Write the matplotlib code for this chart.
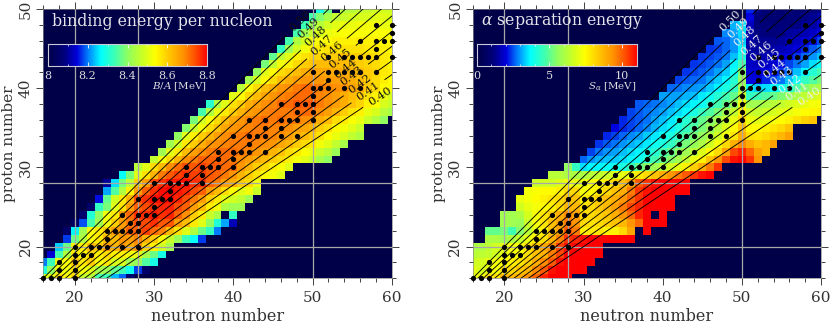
import numpy as np
import matplotlib
matplotlib.use("Agg")
import matplotlib.pyplot as plt
from matplotlib.colors import LinearSegmentedColormap, Normalize
from matplotlib.ticker import MultipleLocator

nan = float("nan")

# ---------- data ----------
proton_numbers = list(range(16, 51))

ba_first_n = [16,16,16,17,18,19,19,20,21,22,23,24,24,26,28,30,31,32,33,34,35,36,37,40,41,42,43,44,45,46,47,48,49,50,51]
ba_values = [
 [8.49,8.50,8.58,8.54,8.58,8.46,8.45,8.34,8.33,8.23,8.19,8.06],
 [8.30,8.40,8.52,8.52,8.57,8.52,8.50,8.43,8.41,8.36,8.33,8.28,8.17,8.05],
 [8.20,8.33,8.52,8.53,8.60,8.56,8.60,8.53,8.56,8.49,8.49,8.42,8.41,8.35,8.29],
 [8.14,8.34,8.44,8.56,8.54,8.58,8.55,8.58,8.55,8.55,8.52,8.51,8.43,8.37,8.29],
 [8.24,8.37,8.55,8.55,8.62,8.60,8.66,8.63,8.67,8.64,8.67,8.59,8.55,8.48,8.43],
 [8.17,8.37,8.44,8.53,8.56,8.62,8.62,8.67,8.66,8.69,8.63,8.60,8.53,8.47,8.41,8.33,8.27,8.17],
 [8.05,8.26,8.42,8.53,8.56,8.60,8.66,8.66,8.72,8.72,8.75,8.71,8.69,8.62,8.57,8.50,8.44,8.37,8.32,8.20],
 [8.04,8.18,8.34,8.42,8.52,8.60,8.66,8.70,8.74,8.74,8.76,8.73,8.73,8.66,8.62,8.56,8.50,8.40,8.30,8.22,8.12],
 [8.06,8.30,8.40,8.52,8.56,8.66,8.71,8.76,8.76,8.78,8.76,8.77,8.72,8.68,8.60,8.56,8.47,8.43,nan,8.32],
 [8.05,8.32,8.38,8.50,8.57,8.66,8.72,8.74,8.76,8.77,8.77,8.74,8.72,8.66,8.62,8.56,8.52,8.44,8.42,8.42],
 [8.15,8.36,8.48,8.56,8.63,8.74,8.76,8.79,8.79,8.79,8.77,8.74,8.70,8.66,8.60,8.56,8.50,8.48,8.46,8.42],
 [8.22,8.35,8.44,8.55,8.66,8.72,8.76,8.79,8.80,8.78,8.77,8.74,8.72,8.66,8.62,8.58,8.54,8.50,8.52,8.47],
 [8.10,8.25,8.38,8.46,8.60,8.66,8.74,8.76,8.78,8.78,8.79,8.76,8.76,8.72,8.70,8.66,8.64,8.60,8.58,8.52],
 [8.27,8.38,8.50,8.57,8.63,8.70,8.73,8.75,8.76,8.75,8.75,8.73,8.72,8.70,8.67,8.63,8.60,8.57,8.54,8.52,8.50],
 [8.45,8.50,8.58,8.62,8.68,8.71,8.74,8.73,8.75,8.73,8.73,8.71,8.71,8.67,8.63,8.60,8.58,8.55,8.53,8.50],
 [8.46,8.52,8.58,8.63,8.68,8.70,8.72,8.72,8.72,8.71,8.70,8.68,8.66,8.64,8.62,8.60,8.58,8.55,8.52,8.50,8.47,8.43,8.40],
 [8.42,8.50,8.56,8.62,8.66,8.68,8.70,8.71,8.71,8.71,8.70,8.69,8.67,8.66,8.63,8.61,8.58,8.56,8.53,8.51,8.47,8.45,8.41],
 [8.42,8.48,8.56,8.60,8.64,8.67,8.68,8.69,8.70,8.70,8.70,8.69,8.68,8.67,8.65,8.63,8.60,8.58,8.56,8.52,8.50,8.46,8.43],
 [8.40,8.50,8.55,8.60,8.63,8.66,8.68,8.69,8.70,8.71,8.70,8.70,8.69,8.68,8.66,8.64,8.62,8.60,8.57,8.54,8.51,8.49,8.46,8.44],
 [8.39,8.47,8.52,8.58,8.61,8.65,8.67,8.68,8.69,8.70,8.70,8.69,8.69,8.68,8.66,8.65,8.63,8.60,8.58,8.54,8.52,8.50,8.47],
 [8.38,8.48,8.53,8.58,8.62,8.65,8.67,8.69,8.70,8.71,8.70,8.71,8.70,8.70,8.68,8.68,8.64,8.62,8.58,8.56,8.53,8.51,8.47,8.44,8.40],
 [8.34,8.44,8.51,8.56,8.60,8.63,8.66,8.67,8.69,8.70,8.70,8.70,8.71,8.71,8.71,8.68,8.66,8.63,8.60,8.57,8.55,8.51,8.49,8.45,8.43],
 [8.31,8.44,8.50,8.57,8.60,8.64,8.66,8.68,8.69,8.71,8.71,8.73,8.72,8.73,8.70,8.68,8.66,8.64,8.61,8.59,8.55,8.53,8.49,8.47],
 [8.50,8.54,8.59,8.62,8.65,8.67,8.69,8.70,8.71,8.71,8.71,8.69,8.68,8.66,8.64,8.62,8.60,8.57,8.55,8.51,8.49],
 [8.45,8.54,8.58,8.62,8.64,8.67,8.68,8.70,8.71,8.71,8.70,8.69,8.68,8.67,8.65,8.64,8.60,8.58,8.54,8.53],
 [8.42,8.49,8.54,8.58,8.62,8.64,8.66,8.67,8.67,8.67,8.66,8.66,8.65,8.64,8.62,8.60,8.58,8.55,8.53],
 [8.40,8.50,8.54,8.58,8.60,8.62,8.64,8.66,8.65,8.65,8.64,8.64,8.63,8.62,8.60,8.59,8.56,8.55],
 [8.38,8.46,8.52,8.55,8.58,8.60,8.61,8.62,8.62,8.62,8.62,8.61,8.60,8.59,8.58,8.56,8.54],
 [8.36,8.46,8.50,8.55,8.57,8.59,8.59,8.60,8.60,8.61,8.60,8.60,8.59,8.58,8.56,8.55],
 [8.32,8.42,8.48,8.52,8.55,8.56,8.57,8.57,8.57,8.57,8.57,8.56,8.56,8.55,8.54],
 [8.34,8.44,8.48,8.52,8.53,8.54,8.55,8.55,8.55,8.56,8.55,8.55,8.54,8.54],
 [8.34,8.42,8.47,8.49,8.51,8.52,8.53,8.53,8.53,8.53,8.53,8.53,8.52],
 [8.33,8.42,8.45,8.48,8.50,8.51,8.51,8.52,8.52,8.52,8.51,8.51],
 [8.34,8.39,8.43,8.46,8.47,8.48,8.49,8.49,8.50,8.50,8.49],
 [8.29,8.37,nan,8.44,8.45,8.46,8.47,8.48,8.48,8.48],
]

sa_first_n = [16,16,16,16,16,18,18,20,20,22,22,23,24,26,28,30,31,32,33,34,35,36,37,40,41,42,43,44,45,46,47,48,49,51,51]
sa_values = [
 [6.9,7.1,7.9,7.8,8.6,8.6,8.8,9.3,9.8,10.6,11,11,11],
 [6.9,6.7,7.0,7.2,7.8,8.0,8.3,8.6,9.4,10,10.8,11,11,11,11],
 [6.5,6.7,6.9,7.2,7.4,7.6,7.8,8.2,8.8,9.4,10,10.8,11,11,11,11],
 [6.2,6.3,6.4,6.6,6.9,7.2,7.4,7.9,8.4,8.7,9.6,10.2,11,11,11,11,11],
 [6.0,6.0,6.3,6.6,7.0,7.2,7.3,7.9,8.3,8.9,9.4,10.3,10.8,11,11,11,11],
 [6.0,6.0,5.8,6.0,6.4,7.0,7.6,7.9,8.7,9.5,10.4,10.6,10.8,11,11,11,11,11,11],
 [5.0,5.0,5.2,4.6,5.4,6.2,7.0,7.6,8.4,9.0,10.0,9.6,7.6,7.7,7.8,7.6,7.6,8.0,8.9,nan,11],
 [5.8,5.8,5.7,6.5,7.2,7.8,8.5,8.9,9.6,9.2,8.0,7.9,8.0,8.2,8.4,8.6,9.2,9.8,11,11,11],
 [5.8,5.8,6.0,6.7,7.2,7.8,8.2,8.8,9.4,9.0,8.0,8.0,8.2,8.4,8.8,9.2,9.8,10.6,11,nan,11],
 [6.6,7.0,7.2,7.4,7.6,8.0,8.6,8.6,7.8,8.0,8.3,8.6,9.0,9.6,10.2,10.6,11,11,11,11],
 [7.0,7.2,7.4,7.6,7.8,8.0,8.4,8.4,7.6,7.9,8.2,8.5,8.8,9.2,9.8,10.4,11,11,11,11],
 [7.2,7.3,7.4,7.4,7.6,8.0,8.0,7.2,7.4,7.6,8.0,8.4,8.8,9.6,10.4,10.8,11,11,11,11,11],
 [6.5,6.6,6.6,6.8,7.2,7.0,7.0,7.2,7.4,7.6,8.0,8.5,9.0,10.0,10.4,10.8,11,11,11,11],
 [6.2,6.2,6.0,6.0,6.0,6.2,6.4,6.5,6.7,7.0,7.2,7.7,8.0,8.4,8.8,9.2,9.6,10.0,10.4,10.8,11],
 [5.5,4.4,3.4,3.6,3.6,3.7,3.8,4.0,4.5,5.0,5.4,5.8,6.2,6.6,7.0,7.6,8.2,8.8,9.6,10.4],
 [2.6,2.9,3.1,3.2,3.3,3.4,3.6,3.8,4.2,4.6,5.0,5.4,5.8,6.4,7.0,7.6,8.4,9.2,10.2,10.8,11,10.4,9.2],
 [2.4,2.7,2.9,3.0,3.2,3.4,3.6,3.8,4.2,4.6,5.0,5.5,5.8,6.2,6.8,7.4,8.0,9.0,10.2,10.6,9.8,9.0,8.6],
 [2.3,2.5,2.7,2.9,3.1,3.3,3.5,3.8,4.0,4.4,4.8,5.2,5.6,6.0,6.6,7.2,8.0,8.8,9.4,8.8,8.4,8.6,9.0],
 [2.2,2.4,2.6,2.8,3.0,3.3,3.5,3.8,4.0,4.4,4.8,5.2,5.6,6.0,6.6,7.2,7.8,8.8,7.9,7.8,8.0,8.3,8.6,9.0],
 [2.0,2.2,2.4,2.6,2.8,3.1,3.4,3.6,4.0,4.4,4.8,5.2,5.6,6.2,6.8,7.4,8.4,7.4,7.4,7.6,7.8,8.0,8.4],
 [2.2,2.4,2.5,2.7,3.0,3.2,3.5,3.8,4.2,4.6,5.0,5.4,5.8,6.4,7.0,8.0,7.0,6.9,7.0,7.2,7.4,7.6,7.9,8.2,8.4],
 [2.4,2.5,2.7,2.8,3.0,3.2,3.4,3.6,4.0,4.4,4.8,5.2,5.8,6.4,7.6,6.5,6.4,6.5,6.7,6.9,7.0,7.2,7.4,7.5,7.6],
 [2.5,2.6,2.7,2.8,3.0,3.2,3.4,3.6,3.8,4.2,4.6,5.0,5.6,7.0,5.8,5.8,6.0,6.2,6.4,6.6,6.8,7.0,7.2,7.3],
 [3.0,3.0,3.0,3.1,3.2,3.5,3.8,4.2,4.6,5.0,6.4,4.4,4.6,4.8,5.0,5.3,5.6,6.0,6.3,6.6,6.8],
 [2.6,2.7,2.8,2.9,3.0,3.3,3.6,4.0,4.4,5.8,3.6,3.3,3.4,3.6,3.8,4.2,4.8,5.4,5.8,6.0],
 [2.4,2.5,2.6,2.7,3.0,3.3,3.6,4.2,5.6,2.0,2.0,2.2,2.4,2.7,3.2,3.8,4.4,4.8,5.2],
 [2.3,2.4,2.5,2.7,3.0,3.3,3.8,5.4,1.9,1.9,2.0,2.1,2.3,2.7,3.2,3.6,4.2,4.6],
 [2.3,2.4,2.5,2.7,3.0,3.6,4.6,1.8,1.7,1.8,1.9,2.1,2.4,2.7,3.0,3.4,3.8],
 [2.3,2.4,2.5,2.7,3.2,4.0,1.6,1.5,1.6,1.7,1.9,2.0,2.3,2.6,2.9,3.2],
 [2.3,2.4,2.6,2.9,3.6,1.5,1.4,1.4,1.5,1.6,1.8,2.0,2.2,2.5,2.8],
 [2.5,2.6,2.9,3.3,1.5,1.3,1.3,1.3,1.4,1.6,1.7,1.9,2.1,2.4],
 [2.8,3.0,3.4,1.5,1.2,1.1,1.1,1.2,1.4,1.5,1.6,1.8,2.0],
 [3.1,3.4,1.7,1.1,1.0,1.0,1.1,1.1,1.2,1.4,1.5,1.8],
 [2.0,1.0,0.9,0.9,0.9,1.0,1.0,1.2,1.3,1.5],
 [2.2,1.2,1.0,0.9,0.8,0.9,0.9,1.0,1.1,1.2],
]

stable_z = list(range(16, 49))
stable_n = [
 [16,17,18,20],[18,20],[18,20],[20,21,22],[20,22,23,24,26,28],[24],[24,25,26,27,28],[27,28],
 [26,28,29,30],[30],[28,30,31,32],[32],[30,32,33,34,36],[34,36],[34,36,37,38,40],[38,40],
 [38,40,41,42,44],[42],[40,42,43,44,46,48],[44,46],[42,44,46,47,48,50],[48,50],[46,48,49,50],[50],
 [50,51,52,54,56],[52],[50,52,53,54,55,56,58],[],[52,54,55,56,57,58,60],[58],[56,58,59,60],[60],[58,60],
]

zoa_ratios = [0.40,0.41,0.42,0.43,0.44,0.45,0.46,0.47,0.48,0.49,0.50]
zoa_labels = ["0.40","0.41","0.42","0.43","0.44","0.45","0.46","0.47","0.48","0.49","0.50"]
zoa_label_n = [58.5,57,56,55,54.1,53.5,52.4,51.2,50.4,49.5,48.5]

magic_n = [20,28,50]
magic_z = [20,28]

# ---------- style ----------
W, H = 830, 327
NAVY = "#000048"
cmap = LinearSegmentedColormap.from_list("ship", [
    (0.00, "#000048"), (0.10, "#00007c"), (0.18, "#0000dc"), (0.25, "#0080ff"),
    (0.33, "#00ffff"), (0.42, "#40ffb0"), (0.50, "#90ff60"), (0.60, "#d0ff20"),
    (0.67, "#ffff00"), (0.77, "#ffc000"), (0.85, "#ff9000"), (0.92, "#ff5000"), (1.00, "#ff0000")])
cmap.set_bad(NAVY)
SERIF = "DejaVu Serif"
plt.rcParams["font.family"] = SERIF
plt.rcParams["mathtext.fontset"] = "dejavuserif"
TXT = "#333333"

def px_axes(fig, x0, y0, x1, y1):
    return fig.add_axes([x0/W, 1-y1/H, (x1-x0)/W, (y1-y0)/H])

def to_grid(first_n, values):
    grid = np.full((len(proton_numbers), 45), np.nan)
    for i, (f, row) in enumerate(zip(first_n, values)):
        for k, v in enumerate(row):
            if f+k-16 < 45:
                grid[i, f+k-16] = v
    return grid

def panel(fig, box, first_n, values, vmin, vmax, title, title_x, cbox, cticks, cminor, ctick_labels, clabel, label_color):
    ax = px_axes(fig, *box)
    ax.set_facecolor(NAVY)
    grid = to_grid(first_n, values)
    xe = np.arange(15.5, 61)
    ye = np.arange(15.5, 51)
    norm = Normalize(vmin, vmax)
    ax.pcolormesh(xe, ye, np.ma.masked_invalid(grid), cmap=cmap, norm=norm, zorder=1)
    ax.set_xlim(16, 60)
    ax.set_ylim(16, 50)
    for n in magic_n:
        ax.axvline(n, color="#a8a8a8", lw=0.9, zorder=2)
    for z in magic_z:
        ax.axhline(z, color="#a8a8a8", lw=0.9, zorder=2)
    # lines of constant Z/A with gaps for their labels
    for r, lab, nl in zip(zoa_ratios, zoa_labels, zoa_label_n):
        s = r/(1-r)
        dn = 2.0/np.sqrt(1+s*s)*1.3
        ax.plot([0, nl-dn], [0, s*(nl-dn)], color="k", lw=0.65, zorder=3)
        ax.plot([nl+dn, 80], [s*(nl+dn), s*80], color="k", lw=0.65, zorder=3)
        ax.text(nl, s*nl, lab, rotation=np.degrees(np.arctan(s)), rotation_mode="anchor",
                ha="center", va="center", fontsize=8.2, color=label_color, zorder=5)
    for z, ns in zip(stable_z, stable_n):
        if ns:
            ax.scatter(ns, [z]*len(ns), s=14, color="k", linewidths=0, zorder=4, clip_on=False)
    ax.xaxis.set_major_locator(MultipleLocator(10))
    ax.xaxis.set_minor_locator(MultipleLocator(2))
    ax.yaxis.set_major_locator(MultipleLocator(10))
    ax.yaxis.set_minor_locator(MultipleLocator(2))
    ax.tick_params(which="major", direction="out", length=5, width=0.6, top=True, right=True,
                   color="#222222", labelsize=11, labelcolor=TXT, pad=4)
    ax.tick_params(axis="y", which="major", pad=2.5)
    ax.tick_params(which="minor", direction="out", length=3, width=0.6, top=True, right=True, color="#222222")
    for t in ax.get_yticklabels():
        t.set_rotation(90)
        t.set_va("center")
    for s in ax.spines.values():
        s.set_color("#888888")
        s.set_linewidth(0.5)
    ax.set_xlabel("neutron number", fontsize=11.5, color=TXT, labelpad=2)
    ax.set_ylabel("proton number", fontsize=11, color=TXT)
    ax.yaxis.set_label_coords(-27.0/(box[2]-box[0]), 0.5)
    fig.text(title_x/W, 1-21/H, title, color="#e4e4ea", fontsize=11.3, va="center", ha="left", zorder=10)
    # colour scale
    cax = px_axes(fig, *cbox)
    g = np.linspace(vmin, vmax, 256)[None, :]
    cax.imshow(g, aspect="auto", cmap=cmap, norm=norm, extent=[vmin, vmax, 0, 1])
    cax.set_yticks([])
    cax.set_xticks(cticks)
    cax.set_xticklabels(ctick_labels)
    cax.set_xticks(cminor, minor=True)
    cax.tick_params(axis="x", which="major", direction="in", length=3, width=0.6, color="white",
                    top=True, labelsize=8, labelcolor="#dddddd", pad=3.5)
    cax.tick_params(axis="x", which="minor", direction="in", length=1.5, width=0.5, color="white", top=True)
    for s in cax.spines.values():
        s.set_color("#c8c8d8")
        s.set_linewidth(0.8)
    fig.text(cbox[2]/W, 1-87/H, clabel, color="#dddddd", fontsize=7.4, ha="right", va="center", zorder=10)

fig = plt.figure(figsize=(W/100, H/100), dpi=100, facecolor="white")
panel(fig, (43.3, 9, 391.7, 278.3), ba_first_n, ba_values, 8.0, 8.8,
      "binding energy per nucleon", 52, (47.7, 44, 207.3, 66),
      [8.0, 8.2, 8.4, 8.6, 8.8], [8.1, 8.3, 8.5, 8.7], ["8", "8.2", "8.4", "8.6", "8.8"],
      r"$B/A$ [MeV]", "#111111")
panel(fig, (472.7, 9, 821, 278.3), sa_first_n, sa_values, 0, 11,
      r"$\alpha$ separation energy", 481, (476.7, 44, 636.7, 66),
      [0, 5, 10], [1, 2, 3, 4, 6, 7, 8, 9], ["0", "5", "10"],
      r"$S_\alpha$ [MeV]", "#eeeeee")
fig.savefig("out.png", dpi=100, facecolor="white")
